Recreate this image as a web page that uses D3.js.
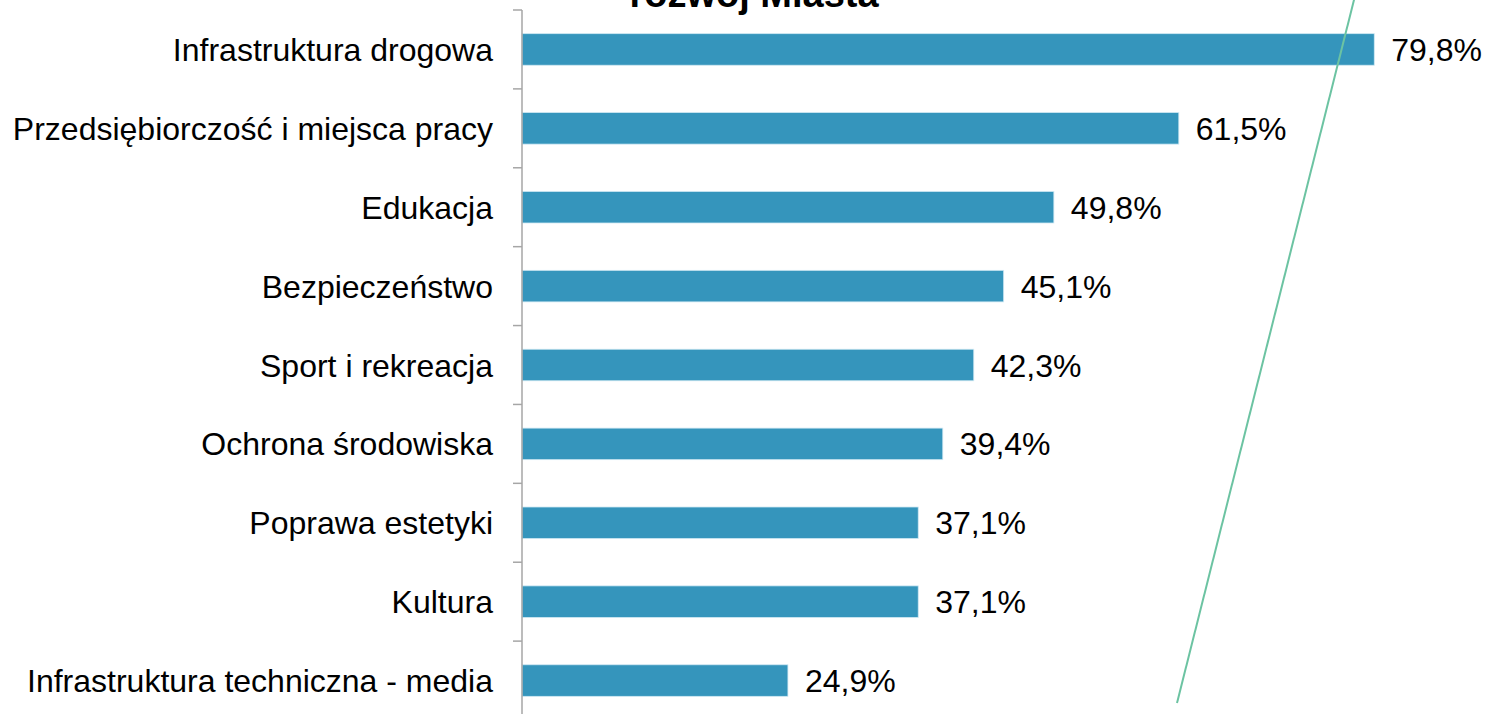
<!DOCTYPE html>
<html><head><meta charset="utf-8">
<script src="https://cdn.jsdelivr.net/npm/d3@7"></script>
<style>html,body{margin:0;padding:0;background:#fff;overflow:hidden}svg{display:block}</style>
</head><body>
<script>
const categories = ["Infrastruktura drogowa","Przedsiębiorczość i miejsca pracy","Edukacja","Bezpieczeństwo","Sport i rekreacja","Ochrona środowiska","Poprawa estetyki","Kultura","Infrastruktura techniczna - media"];
const values = [79.8,61.5,49.8,45.1,42.3,39.4,37.1,37.1,24.9];
const valueLabels = ["79,8%","61,5%","49,8%","45,1%","42,3%","39,4%","37,1%","37,1%","24,9%"];
const titleText = "rozwój Miasta";

const W=1496,H=714;
const font="'Liberation Sans', Arial, sans-serif";
const svg=d3.select("body").append("svg").attr("width",W).attr("height",H);

const y=d3.scaleBand().domain(categories).range([10,720]).paddingInner(0.6).paddingOuter(0.3);
const x=d3.scaleLinear().domain([0,100]).range([522,1590]);
const step=y.step(), gap=step-y.bandwidth();

// bars
svg.selectAll("rect.bar").data(values).enter().append("rect")
  .attr("x",x(0)).attr("y",(d,i)=>y(categories[i]))
  .attr("width",d=>x(d)-x(0)).attr("height",y.bandwidth())
  .attr("fill","#3595BC").attr("stroke","#cfe8f3").attr("stroke-width",0.8);

// axis line + ticks
const axisG=svg.append("g");
axisG.append("line").attr("x1",x(0)).attr("x2",x(0)).attr("y1",y.range()[0]).attr("y2",H)
  .attr("stroke","#a6a6a6").attr("stroke-width",1.5);
const tickYs=categories.map(c=>y(c)-gap/2);
tickYs.push(y(categories[categories.length-1])+y.bandwidth()+gap/2);
axisG.selectAll("line.tick").data(tickYs).enter().append("line")
  .attr("x1",x(0)-9).attr("x2",x(0)).attr("y1",d=>d).attr("y2",d=>d)
  .attr("stroke","#a6a6a6").attr("stroke-width",1.5);

// category labels
svg.selectAll("text.cat").data(categories).enter().append("text")
  .attr("x",x(0)-29).attr("y",c=>y(c)+y.bandwidth()/2).attr("dy","0.36em")
  .attr("text-anchor","end").attr("font-family",font).attr("font-size",32).attr("fill","#000")
  .text(c=>c);

// value labels
svg.selectAll("text.val").data(values).enter().append("text")
  .attr("x",d=>x(d)+17).attr("y",(d,i)=>y(categories[i])+y.bandwidth()/2).attr("dy","0.36em")
  .attr("font-family",font).attr("font-size",32).attr("fill","#000")
  .text((d,i)=>valueLabels[i]);

// decorative line
svg.append("line").attr("x1",1356).attr("y1",-8).attr("x2",1177).attr("y2",703)
  .attr("stroke","#6cc3a2").attr("stroke-width",2);

// title (cut off)
svg.append("text").attr("x",754).attr("y",7).attr("text-anchor","middle")
  .attr("font-family",font).attr("font-weight","bold").attr("font-size",38).attr("fill","#000")
  .text(titleText);
</script>
</body></html>
